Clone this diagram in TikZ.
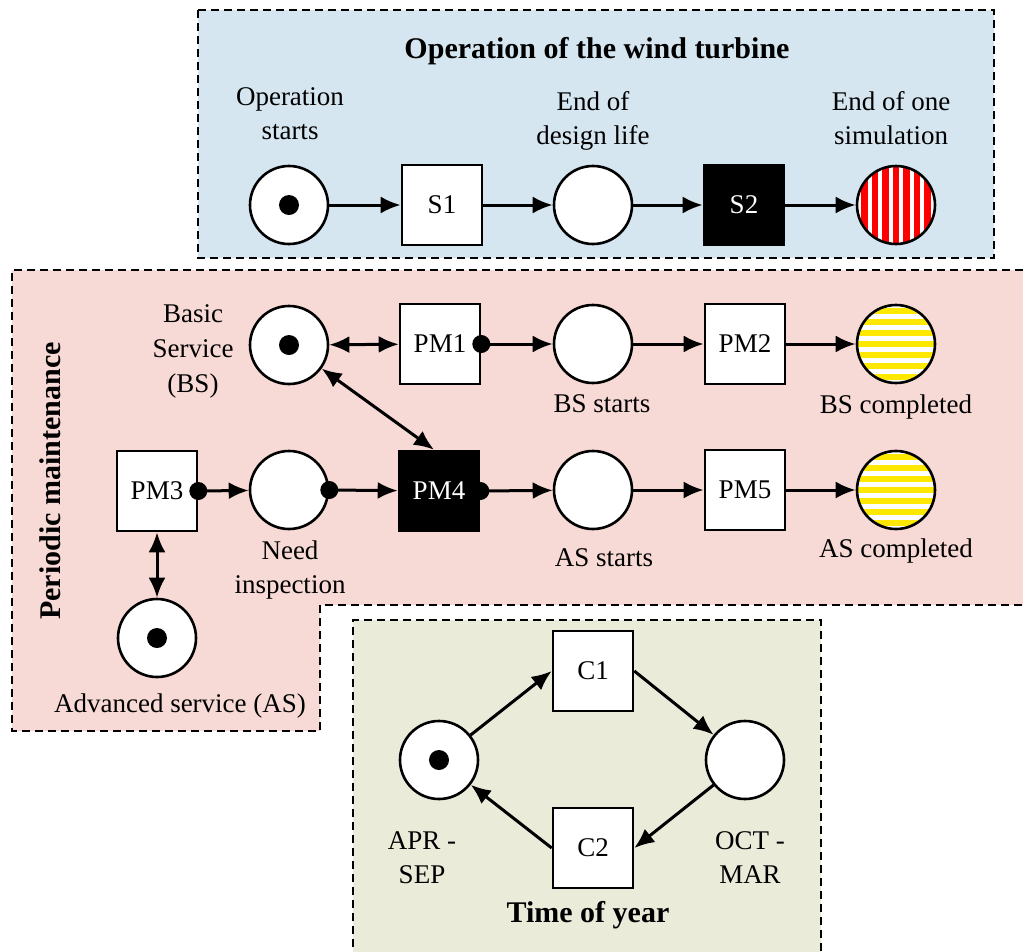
\documentclass[tikz,border=0pt]{standalone}
\usepackage{fontspec}
\setmainfont{Liberation Serif}
\usetikzlibrary{arrows.meta}

\definecolor{opbg}{RGB}{213,230,240}
\definecolor{pmbg}{RGB}{247,218,213}
\definecolor{tybg}{RGB}{235,235,218}
\definecolor{stripered}{RGB}{255,0,0}
\definecolor{stripeyel}{RGB}{255,232,0}

\tikzset{
  every node/.style={font=\rmfamily\fontsize{27}{34}\selectfont},
  frame/.style={line width=1.8pt, dash pattern=on 8pt off 5pt},
  place/.style={circle, draw, line width=2.6pt, fill=white, minimum size=78pt, inner sep=0pt},
  trans/.style={rectangle, draw, line width=2.6pt, fill=white, minimum size=80pt, inner sep=0pt},
  blacktrans/.style={trans, fill=black, text=white},
  lbl/.style={align=center, inner sep=0pt},
  heading/.style={inner sep=0pt, font=\rmfamily\fontsize{30}{34}\selectfont\bfseries},
  arc/.style={line width=3pt, -{Latex[length=20pt,width=17pt]}},
  biarc/.style={line width=3pt, {Latex[length=20pt,width=17pt]}-{Latex[length=20pt,width=17pt]}},
  vstripes/.style={path picture={
      \foreach \k in {-4,...,4}
        \fill[stripered] ([xshift=\k*10.5pt-3.1pt]path picture bounding box.north)
          rectangle ([xshift=\k*10.5pt+3.1pt]path picture bounding box.south);}},
  hstripes/.style={path picture={
      \foreach \k in {-4,...,4}
        \fill[stripeyel] ([yshift=\k*11pt-3.1pt]path picture bounding box.west)
          rectangle ([yshift=\k*11pt+3.1pt]path picture bounding box.east);}},
}

\begin{document}
\begin{tikzpicture}[x=1pt,y=-1pt]
\useasboundingbox (0,0) rectangle (1023,951);

% ---- background panels ----
\fill[opbg] (198,10) rectangle (994,258);
\draw[frame] (198,10) rectangle (994,258);

\fill[pmbg] (12,270) -- (1023,270) -- (1023,605) -- (320,605) -- (320,731) -- (12,731) -- cycle;
\draw[frame] (1023,270) -- (12,270) -- (12,731) -- (320,731) -- (320,605) -- (1023,605);

\fill[tybg] (353,620) rectangle (821,960);
\draw[frame] (353,960) -- (353,620) -- (821,620) -- (821,960);

% ---- operation of the wind turbine ----
\node[heading] (optitle) at (597,51) {Operation of the wind turbine};
\node[place] (opstart) at (289,205) {};
\node[trans] (s1) at (442,205) {S1};
\node[place] (eol) at (593,205) {};
\node[blacktrans] (s2) at (744,205) {S2};
\node[place, vstripes] (eos) at (896,205) {};

\node[lbl] (opstartlbl) at (290,114) {Operation\\starts};
\node[lbl] (eollbl) at (593,121) {End of\\design life};
\node[lbl] (eoslbl) at (891,118) {End of one\\simulation};

\draw[arc] (opstart) -- (s1);
\draw[arc] (s1) -- (eol);
\draw[arc] (eol) -- (s2);
\draw[arc] (s2) -- (eos);

% ---- periodic maintenance ----
\node[heading, rotate=90] (pmtitle) at (50,481) {Periodic maintenance};

\node[place] (bs) at (289,345) {};
\node[trans] (pm1) at (440,344) {PM1};
\node[place] (bss) at (593,344) {};
\node[trans] (pm2) at (745,344) {PM2};
\node[place, hstripes] (bsc) at (896,344) {};

\node[trans] (pm3) at (157,491) {PM3};
\node[place] (ni) at (289,490) {};
\node[blacktrans] (pm4) at (439,491) {PM4};
\node[place] (ass) at (593,490) {};
\node[trans] (pm5) at (745,490) {PM5};
\node[place, hstripes] (asc) at (896,490) {};

\node[place] (adv) at (157,638) {};

\node[lbl, font=\rmfamily\fontsize{27}{35}\selectfont] (bslbl) at (193,351) {Basic\\Service\\(BS)};
\node[lbl] (bsslbl) at (602,404) {BS starts};
\node[lbl] (bsclbl) at (896,407) {BS completed};
\node[lbl] (nilbl) at (290,570) {Need\\inspection};
\node[lbl] (asslbl) at (604,558) {AS starts};
\node[lbl] (asclbl) at (896,551) {AS completed};
\node[lbl] (advlbl) at (180,706) {Advanced service (AS)};

\draw[biarc] (bs) -- (pm1);
\draw[biarc] (bs) -- ([xshift=-5pt]pm4.north);
\draw[arc] (pm1.east) -- (bss);
\draw[arc] (bss) -- (pm2);
\draw[arc] (pm2) -- (bsc);

\draw[arc] (pm3.east) -- (ni);
\draw[arc] (ni.east) -- (pm4);
\draw[arc] (pm4.east) -- (ass);
\draw[arc] (ass) -- (pm5);
\draw[arc] (pm5) -- (asc);
\draw[biarc] (pm3) -- (adv);

\fill (pm1.east) circle (9);
\fill (pm3.east) circle (9);
\fill (ni.east) circle (9);
\fill (pm4.east) circle (9);

% ---- time of year ----
\node[place] (apr) at (439,760) {};
\node[trans] (c1) at (593,671) {C1};
\node[place] (oct) at (745,760) {};
\node[trans] (c2) at (593,848) {C2};

\node[lbl] (aprlbl) at (422,858) {APR -\\SEP};
\node[lbl] (octlbl) at (750,858) {OCT -\\MAR};
\node[heading] (tytitle) at (588,915) {Time of year};

\draw[arc] (apr) -- (c1.west);
\draw[arc] (c1.east) -- (oct);
\draw[arc] (oct) -- (c2.east);
\draw[arc] (c2.west) -- (apr);

% ---- tokens ----
\foreach \p in {opstart, bs, adv, apr}
  \fill (\p) circle (10);
\end{tikzpicture}
\end{document}
